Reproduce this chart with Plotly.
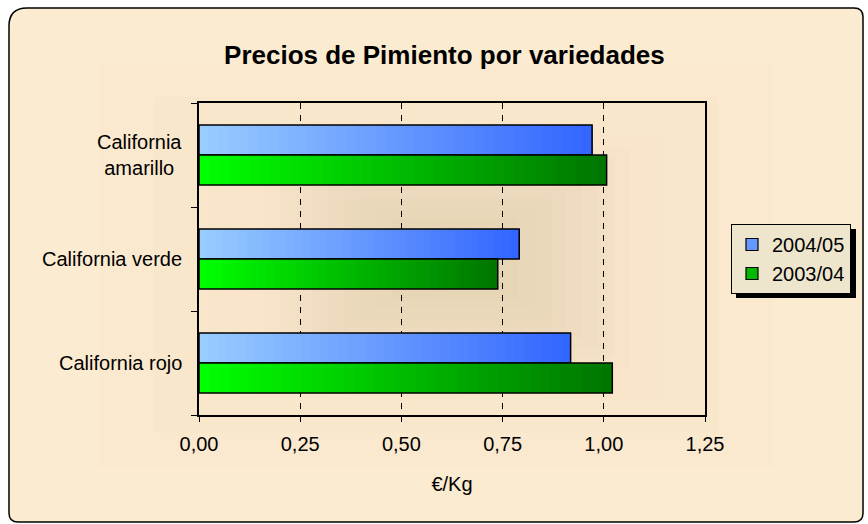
import plotly.graph_objects as go

# ---- data ----
categories = ["California rojo", "California verde", "California<br>amarillo"]
series_names = ["2004/05", "2003/04"]
precio_2004_05 = [0.918, 0.791, 0.971]
precio_2003_04 = [1.021, 0.738, 1.007]
x_ticks = [0.0, 0.25, 0.5, 0.75, 1.0, 1.25]

# ---- geometry / style ----
W, H = 868, 524
PL, PR, PT, PB = 199, 705, 103, 415          # plot-area pixel box
BAR_W = 0.288                                 # bar thickness in category units
N_SLICES = 40
FONT = "Arial, Liberation Sans, sans-serif"
BG = "#FBEBD0"

gradients = {
    "2004/05": ((153, 204, 255), (51, 102, 255)),
    "2003/04": ((0, 255, 0), (0, 118, 0)),
}
offsets = {"2004/05": 0.0, "2003/04": -BAR_W}
values = {"2004/05": precio_2004_05, "2003/04": precio_2003_04}
pos = list(range(len(categories)))


def px_x(px):
    return (px - PL) / (PR - PL)


def px_y(py):
    return (PB - py) / (PB - PT)


def mix(c0, c1, t):
    return "rgb(%d,%d,%d)" % tuple(round(a + (b - a) * t) for a, b in zip(c0, c1))


fig = go.Figure()

# gradient-filled bars: successive overlapping slices from left to right
for name in series_names:
    c0, c1 = gradients[name]
    vals = values[name]
    for i in range(N_SLICES):
        t = i / (N_SLICES - 1)
        fig.add_trace(go.Bar(
            orientation="h", y=pos,
            base=[v * i / N_SLICES for v in vals],
            x=[v * (N_SLICES - i) / N_SLICES for v in vals],
            width=BAR_W, offset=offsets[name],
            marker=dict(color=mix(c0, c1, t), line=dict(width=0)),
            showlegend=False, hoverinfo="skip",
        ))
    # black outline of the full bar
    fig.add_trace(go.Bar(
        orientation="h", y=pos, x=vals, width=BAR_W, offset=offsets[name],
        marker=dict(color="rgba(0,0,0,0)", line=dict(color="black", width=1.5)),
        showlegend=False, name=name,
    ))

# legend entries
for name in series_names:
    c0, c1 = gradients[name]
    fig.add_trace(go.Bar(
        orientation="h", y=[None], x=[None], name=name,
        marker=dict(color=mix(c0, c1, 0.5), line=dict(color="black", width=1.2)),
        showlegend=True,
    ))

shapes = []
# outer chart frame with rounded corners
L, T, R, B = 9, 8, 863, 522
r1, r2 = 18, 9
path = (f"M {px_x(L)},{px_y(T + r1)} Q {px_x(L)},{px_y(T)} {px_x(L + r1)},{px_y(T)} "
        f"L {px_x(R - r2)},{px_y(T)} Q {px_x(R)},{px_y(T)} {px_x(R)},{px_y(T + r2)} "
        f"L {px_x(R)},{px_y(B - r2)} Q {px_x(R)},{px_y(B)} {px_x(R - r2)},{px_y(B)} "
        f"L {px_x(L + r2)},{px_y(B)} Q {px_x(L)},{px_y(B)} {px_x(L)},{px_y(B - r2)} Z")
shapes.append(dict(type="path", xref="paper", yref="paper", path=path,
                   fillcolor=BG, line=dict(color="black", width=1.5), layer="below"))

# soft centre shading of the chart area
for k in range(5):
    dx, dy = 90 + k * 55, 55 + k * 34
    shapes.append(dict(type="rect", xref="paper", yref="paper",
                       x0=px_x(L + dx), x1=px_x(R - dx), y0=px_y(T + dy), y1=px_y(B - dy),
                       fillcolor="rgba(215,210,180,0.035)", line=dict(width=0), layer="below"))

# centre shading of the plot area
cx, cy = 455, 258
for k in range(10):
    hw = 175 - k * 16
    hh = 110 - k * 10
    shapes.append(dict(type="rect", xref="paper", yref="paper",
                       x0=px_x(cx - hw), x1=px_x(cx + hw),
                       y0=px_y(cy - hh), y1=px_y(cy + hh),
                       fillcolor="rgba(200,182,145,0.028)", line=dict(width=0), layer="below"))

# legend drop shadow
LG_L, LG_T, LG_R, LG_B = 731, 224, 851, 293
shapes.append(dict(type="rect", xref="paper", yref="paper",
                   x0=px_x(LG_L + 5), x1=px_x(LG_R + 5), y0=px_y(LG_T + 5), y1=px_y(LG_B + 5),
                   fillcolor="black", line=dict(width=0), layer="below"))

# category labels (centred multi-line text)
annotations = []
for p, cat in zip(pos, categories):
    annotations.append(dict(x=px_x(184), y=p, xref="paper", yref="y", text=cat,
                            showarrow=False, xanchor="right", yanchor="middle",
                            align="center", font=dict(family=FONT, size=20, color="black")))

fig.update_layout(
    width=W, height=H,
    margin=dict(l=PL, r=W - PR, t=PT, b=H - PB, pad=0),
    paper_bgcolor="white", plot_bgcolor="rgba(0,0,0,0)",
    barmode="overlay", separators=",.",
    font=dict(family=FONT, size=20, color="black"),
    title=dict(text="<b>Precios de Pimiento por variedades</b>", x=0.512, xref="container",
               y=1 - 55 / H, yanchor="middle", xanchor="center",
               font=dict(family=FONT, size=26, color="black")),
    showlegend=True,
    legend=dict(x=px_x(LG_L), y=px_y(LG_T), xanchor="left", yanchor="top",
                bgcolor="#EEE5CD", bordercolor="black", borderwidth=1,
                font=dict(family=FONT, size=20, color="black"),
                itemwidth=30, tracegroupgap=0, traceorder="normal"),
    shapes=shapes, annotations=annotations,
)

fig.update_xaxes(
    range=[0, 1.25], tickvals=x_ticks, tickformat=".2f",
    showgrid=True, gridcolor="black", gridwidth=1, griddash="6px,6px",
    showline=True, linecolor="black", linewidth=1.5, mirror=True,
    ticks="outside", ticklen=5, tickcolor="black", tickwidth=1,
    ticklabelstandoff=5,
    tickfont=dict(family=FONT, size=20, color="black"),
    title=dict(text="€/Kg", font=dict(family=FONT, size=20, color="black"), standoff=23),
    zeroline=False, fixedrange=True,
)
fig.update_yaxes(
    range=[-0.5, 2.5], tickvals=pos, showticklabels=False, ticks="",
    minor=dict(tickvals=[-0.5, 0.5, 1.5, 2.5], ticks="outside", ticklen=6,
               tickcolor="black", tickwidth=1, showgrid=False),
    showgrid=False, showline=True, linecolor="black", linewidth=1.5, mirror=True,
    zeroline=False, fixedrange=True,
)

fig.write_html("out.html")
